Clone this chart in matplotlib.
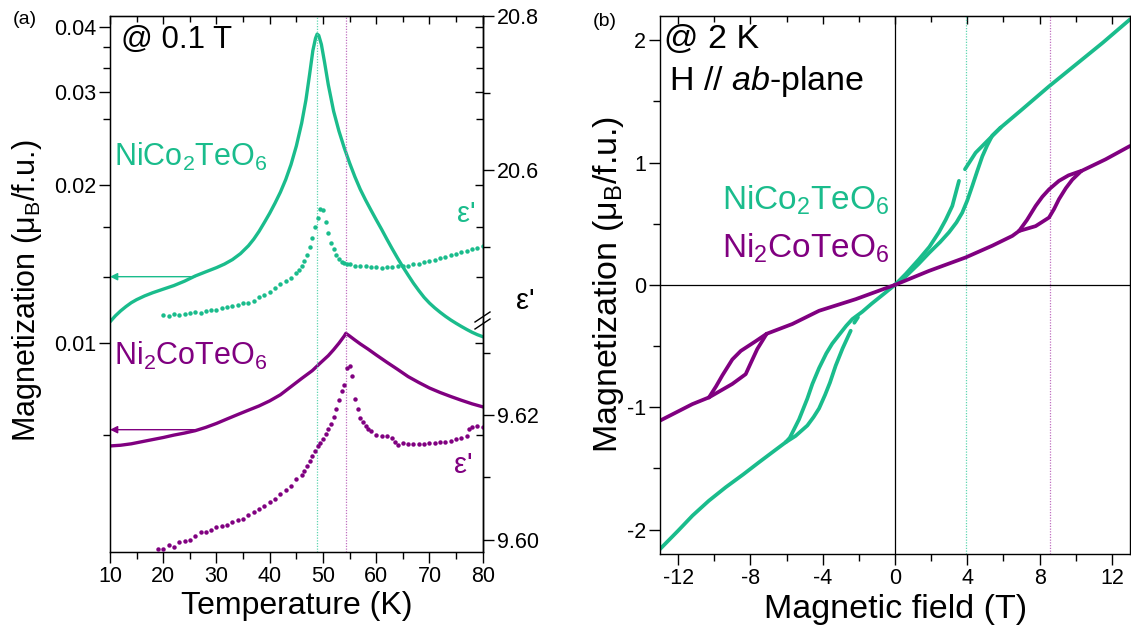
import numpy as np
import matplotlib
matplotlib.use('Agg')
import matplotlib.pyplot as plt
from matplotlib.ticker import FixedLocator, NullFormatter, FixedFormatter

plt.rcParams['font.family'] = ['Liberation Sans', 'DejaVu Sans']
plt.rcParams['mathtext.fontset'] = 'custom'
plt.rcParams['mathtext.rm'] = 'Liberation Sans'
plt.rcParams['mathtext.it'] = 'Liberation Sans:italic'
plt.rcParams['mathtext.bf'] = 'Liberation Sans:bold'
plt.rcParams['axes.unicode_minus'] = False

GREEN = '#1abc8c'
PURPLE = '#800080'

# ---- (a) M(T) at 0.1 T ----
t_m_nico = [10, 11, 12, 13, 14, 15, 16.5, 18, 20, 22, 24, 26, 28, 30, 31.5, 33, 34.5, 36,
            37, 38, 39, 40, 41, 42, 43, 44, 45, 46, 46.8, 47.5, 48.1, 48.6, 48.9, 49.2,
            49.7, 50.3, 51, 52, 53, 54, 55, 56, 57, 58, 59, 60, 61, 62, 63, 64, 65, 66,
            67, 68, 69, 70, 71, 72, 73, 74, 75, 76, 77, 78, 79, 80]
m_nico = [0.01096, 0.01125, 0.0115, 0.01172, 0.01192, 0.01208, 0.01228, 0.01245, 0.01265,
          0.01285, 0.0131, 0.0134, 0.01365, 0.0139, 0.01412, 0.0144, 0.01478, 0.0153,
          0.01575, 0.0163, 0.01695, 0.01765, 0.01845, 0.01935, 0.02045, 0.02185, 0.0237,
          0.0262, 0.029, 0.0325, 0.036, 0.038, 0.0387, 0.0385, 0.037, 0.0342, 0.031,
          0.0276, 0.0253, 0.0235, 0.022, 0.0207, 0.0196, 0.0187, 0.0179, 0.01715,
          0.01645, 0.01575, 0.0151, 0.0145, 0.01395, 0.01345, 0.01298, 0.01257, 0.0122,
          0.0119, 0.01165, 0.01143, 0.01123, 0.01105, 0.01089, 0.01074, 0.0106, 0.01047,
          0.01036, 0.01027]

t_m_ni2 = [10, 12, 14, 16, 18, 20, 22, 24, 26, 28, 30, 32, 34, 36, 38, 40, 42, 44, 46, 48,
           49.5, 51, 52, 53, 54, 54.3, 55, 56, 57, 58.5, 60, 62, 64, 66, 68, 70, 72, 74,
           76, 78, 80]
m_ni2 = [0.00636, 0.00638, 0.00642, 0.00648, 0.00654, 0.0066, 0.00667, 0.00673, 0.0068,
         0.0069, 0.00702, 0.00716, 0.0073, 0.00744, 0.00758, 0.00775, 0.00796, 0.00825,
         0.00855, 0.00885, 0.00915, 0.00945, 0.0097, 0.00998, 0.0103, 0.01042, 0.0103,
         0.01012, 0.00995, 0.00972, 0.00948, 0.00918, 0.0089, 0.00862, 0.0084, 0.0082,
         0.00804, 0.0079, 0.00777, 0.00765, 0.00755]

# dielectric constant eps'
t_eps_nico = [20, 21, 22, 23, 24, 25, 26, 27, 28, 29, 30, 31, 32, 33, 34, 35, 36, 37, 38,
              39, 40, 41, 42, 43, 44, 45, 45.5, 46, 46.5, 47, 47.5, 48, 48.5, 49, 49.5,
              50, 50.5, 51, 51.5, 52, 52.5, 53, 53.5, 54, 54.5, 55, 56, 57, 58, 59, 60,
              61, 62, 63, 64, 65, 66, 67, 68, 69, 70, 71, 72, 73, 74, 75, 76, 77, 78,
              79, 80]
eps_nico = [20.412, 20.411, 20.413, 20.412, 20.413, 20.415, 20.416, 20.415, 20.417,
            20.418, 20.419, 20.421, 20.422, 20.424, 20.425, 20.427, 20.428, 20.430,
            20.435, 20.438, 20.442, 20.447, 20.452, 20.456, 20.460, 20.466, 20.470,
            20.476, 20.482, 20.490, 20.500, 20.512, 20.526, 20.538, 20.550, 20.548,
            20.532, 20.518, 20.506, 20.497, 20.490, 20.485, 20.481, 20.479, 20.478,
            20.478, 20.476, 20.476, 20.475, 20.474, 20.474, 20.473, 20.474, 20.474,
            20.475, 20.475, 20.476, 20.478, 20.478, 20.481, 20.482, 20.484, 20.486,
            20.487, 20.490, 20.491, 20.494, 20.495, 20.497, 20.499, 20.502]

t_eps_ni2 = [19, 20, 21, 22, 23, 24, 25, 26, 27, 28, 29, 30, 31, 32, 33, 34, 35, 36, 37,
             38, 39, 40, 41, 42, 43, 44, 45, 46, 46.5, 47, 47.5, 48, 48.5, 49, 49.5, 50,
             50.5, 51, 51.5, 52, 52.5, 53, 53.5, 54, 54.5, 55, 55.5, 56, 56.5, 57, 57.5,
             58, 58.5, 59, 60, 61, 62, 63, 63.5, 64, 65, 66, 67, 68, 69, 70, 71, 72, 73,
             74, 75, 76, 77, 77.5, 78, 79, 80]
eps_ni2 = [9.5985, 9.5986, 9.5992, 9.5989, 9.5997, 9.5998, 9.6000, 9.6006, 9.6012,
           9.6012, 9.6016, 9.6021, 9.6022, 9.6024, 9.6028, 9.6031, 9.6034, 9.6040,
           9.6045, 9.6050, 9.6054, 9.6060, 9.6066, 9.6073, 9.6080, 9.6087, 9.6097,
           9.6104, 9.6110, 9.6118, 9.6126, 9.6134, 9.6142, 9.6150, 9.6155, 9.6161,
           9.6170, 9.6178, 9.6186, 9.6197, 9.6210, 9.6224, 9.6238, 9.6248, 9.6275,
           9.6278, 9.6262, 9.6225, 9.6210, 9.6196, 9.6188, 9.6183, 9.6178, 9.6174,
           9.6168, 9.6166, 9.6167, 9.6163, 9.6156, 9.6152, 9.6155, 9.6154, 9.6154,
           9.6153, 9.6154, 9.6155, 9.6155, 9.6156, 9.6157, 9.6159, 9.6161, 9.6163,
           9.6166, 9.6178, 9.6180, 9.6182, 9.6180]

tn_nico, tn_ni2 = 48.9, 54.4
arrow_t = 26.0
arrow_m_nico, arrow_m_ni2 = 0.01336, 0.00683

m_major = [0.01, 0.02, 0.03, 0.04]
m_major_lbl = ['0.01', '0.02', '0.03', '0.04']
m_minor = [0.00667, 0.01336, 0.0166, 0.0267, 0.0333, 0.0366]

# ---- (b) M(H) at 2 K ----
h_nico_hi = [5.84, 7, 8.5, 10, 11.5, 13]
m_nico_hi = [1.285, 1.43, 1.62, 1.80, 1.98, 2.17]
h_nico_a1 = [0, 0.6, 1.33, 1.9, 2.43, 2.8, 3.17, 3.54]
m_nico_a1 = [0, 0.09, 0.21, 0.31, 0.43, 0.53, 0.645, 0.85]
h_nico_a2 = [3.87, 4.46, 5.2, 5.84]
m_nico_a2 = [0.945, 1.08, 1.19, 1.285]
h_nico_b = [0, 0.6, 1.3, 1.88, 2.5, 2.99, 3.4, 3.72, 4.0, 4.28, 4.55, 4.83, 5.1, 5.38, 5.84]
m_nico_b = [0, 0.07, 0.17, 0.26, 0.35, 0.43, 0.51, 0.59, 0.69, 0.81, 0.93, 1.05, 1.14, 1.22, 1.285]
h_nico_lo = [-13, -12, -11.2, -10.3, -9.36, -8.4, -7.52, -6.8, -6.05]
m_nico_lo = [-2.16, -2.01, -1.886, -1.765, -1.654, -1.55, -1.45, -1.37, -1.287]
h_nico_c = [-6.05, -5.82, -5.31, -4.85, -4.57, -4.2, -3.8, -3.47, -3.1, -2.7, -2.36,
            -1.81, -1.3, -0.98, -0.5, 0]
m_nico_c = [-1.287, -1.25, -1.10, -0.93, -0.81, -0.68, -0.56, -0.48, -0.41, -0.335,
            -0.28, -0.22, -0.155, -0.117, -0.06, 0]
h_nico_d1 = [-6.05, -5.5, -4.85, -4.5, -4.2, -3.87, -3.6, -3.28, -2.9, -2.45]
m_nico_d1 = [-1.287, -1.235, -1.15, -1.08, -1.01, -0.90, -0.80, -0.66, -0.52, -0.375]
h_nico_d2 = [-2.25, -2.05]
m_nico_d2 = [-0.31, -0.265]

h_ni2_lo = [0, 1.88, 3.91, 5.38, 6.49, 6.86]
m_ni2_lo = [0, 0.114, 0.224, 0.32, 0.40, 0.44]
h_ni2_up = [6.86, 7.3, 7.78, 8.15, 8.52, 9.07, 9.6, 10.18, 10.3]
m_ni2_up = [0.44, 0.53, 0.645, 0.72, 0.78, 0.85, 0.895, 0.925, 0.93]
h_ni2_dn = [6.86, 7.78, 8.52, 8.8, 9.07, 9.45, 9.81, 10.3]
m_ni2_dn = [0.44, 0.48, 0.55, 0.62, 0.70, 0.79, 0.86, 0.93]
h_ni2_hi = [10.3, 11.65, 13]
m_ni2_hi = [0.93, 1.026, 1.135]
h_ni2_nhi = [-13, -11.21, -10.29]
m_ni2_nhi = [-1.11, -0.975, -0.92]
h_ni2_nup = [-10.29, -9.9, -9.55, -9.0, -8.53, -7.7, -7.1]
m_ni2_nup = [-0.92, -0.83, -0.74, -0.61, -0.54, -0.46, -0.40]
h_ni2_ndn = [-10.29, -9.0, -8.26, -7.95, -7.62, -7.1]
m_ni2_ndn = [-0.92, -0.81, -0.73, -0.63, -0.525, -0.40]
h_ni2_nlo = [-7.1, -5.68, -4.2, -2.17, 0]
m_ni2_nlo = [-0.40, -0.32, -0.212, -0.117, 0]

hc_nico, hc_ni2 = 3.95, 8.55

W, H = 1131, 627
fig = plt.figure(figsize=(W / 100, H / 100), dpi=100)


def box(x0, y0, x1, y1):
    return [x0 / W, 1 - y1 / H, (x1 - x0) / W, (y1 - y0) / H]


def fxy(x, y):
    return x / W, 1 - y / H


TICK = 15.5

# ---------------- panel (a) ----------------
ax = fig.add_axes(box(110, 15.7, 482.7, 551.7))
ax.set_yscale('log')
ax.plot(t_m_nico, m_nico, color=GREEN, lw=2.4, solid_joinstyle='round')
ax.plot(t_m_ni2, m_ni2, color=PURPLE, lw=2.4, solid_joinstyle='round')
ax.axvline(tn_nico, color='#5fd6b0', lw=0.9, ls=(0, (1, 1.2)))
ax.axvline(tn_ni2, color='#c070c0', lw=0.9, ls=(0, (1, 1.2)))
ax.annotate('', xy=(10, arrow_m_nico), xytext=(arrow_t, arrow_m_nico),
            arrowprops=dict(arrowstyle='-|>', color=GREEN, lw=1.0, mutation_scale=11,
                            shrinkA=0, shrinkB=0))
ax.annotate('', xy=(10, arrow_m_ni2), xytext=(arrow_t, arrow_m_ni2),
            arrowprops=dict(arrowstyle='-|>', color=PURPLE, lw=1.0, mutation_scale=11,
                            shrinkA=0, shrinkB=0))
ax.set_xlim(10, 80)
ax.set_ylim(0.0040, 0.04196)
ax.yaxis.set_major_locator(FixedLocator(m_major))
ax.yaxis.set_major_formatter(FixedFormatter(m_major_lbl))
ax.yaxis.set_minor_locator(FixedLocator(m_minor))
ax.yaxis.set_minor_formatter(NullFormatter())
ax.set_xticks(np.arange(10, 81, 10))
ax.xaxis.set_minor_locator(FixedLocator(np.arange(15, 80, 10)))
ax.tick_params(axis='both', which='both', labelsize=TICK, width=1.0, direction='out',
               top=False, right=False)
ax.tick_params(which='major', length=8)
ax.tick_params(which='minor', length=5)
ax.tick_params(axis='x', pad=2)
ax.tick_params(axis='y', pad=2)
for s in ax.spines.values():
    s.set_linewidth(1.0)

# inward mirror ticks on top and right
sec = ax.secondary_xaxis('top')
sec.set_xticks(np.arange(10, 81, 10))
sec.xaxis.set_minor_locator(FixedLocator(np.arange(15, 80, 10)))
sec.tick_params(which='both', direction='in', labeltop=False, width=1.0)
sec.tick_params(which='major', length=6)
sec.tick_params(which='minor', length=4)
axm = ax.twinx()
axm.set_yscale('log')
axm.set_ylim(ax.get_ylim())
axm.yaxis.set_major_locator(FixedLocator(m_major))
axm.yaxis.set_minor_locator(FixedLocator(m_minor))
axm.yaxis.set_major_formatter(NullFormatter())
axm.yaxis.set_minor_formatter(NullFormatter())
axm.tick_params(which='both', direction='in', width=1.0)
axm.tick_params(which='major', length=6)
axm.tick_params(which='minor', length=5)

# eps' axes: upper (NiCo2TeO6) and lower (Ni2CoTeO6) segments of the broken right axis
axu = fig.add_axes(box(110, 15.7, 482.7, 322))
axl = fig.add_axes(box(110, 322, 482.7, 551.7))
for a in (axu, axl):
    a.patch.set_visible(False)
    for k in ('left', 'top', 'bottom'):
        a.spines[k].set_visible(False)
    a.spines['right'].set_linewidth(1.0)
    a.set_xlim(10, 80)
    a.set_xticks([])
    a.yaxis.tick_right()
    a.tick_params(axis='y', which='both', labelsize=TICK, direction='out', width=1.0, pad=2)
    a.tick_params(which='major', length=8)
    a.tick_params(which='minor', length=5)
axu.plot(t_eps_nico, eps_nico, 'o', ms=3.2, color=GREEN, mec='none')
axu.set_ylim(20.403, 20.8)
axu.yaxis.set_major_locator(FixedLocator([20.6, 20.8]))
axu.yaxis.set_major_formatter(FixedFormatter(['20.6', '20.8']))
axu.yaxis.set_minor_locator(FixedLocator([20.7, 20.5]))
axu.yaxis.set_minor_formatter(NullFormatter())
axl.plot(t_eps_ni2, eps_ni2, 'o', ms=3.2, color=PURPLE, mec='none')
axl.set_ylim(9.5981, 9.6349)
axl.yaxis.set_major_locator(FixedLocator([9.60, 9.62]))
axl.yaxis.set_major_formatter(FixedFormatter(['9.60', '9.62']))
axl.yaxis.set_minor_locator(FixedLocator([9.61, 9.63]))
axl.yaxis.set_minor_formatter(NullFormatter())

# axis break marks
for dy in (0, 7):
    x0, y0 = fxy(475, 322 + dy)
    x1, y1 = fxy(490, 312 + dy)
    fig.add_artist(plt.Line2D([x0, x1], [y0, y1], color='black', lw=1.0))

fig.text(*fxy(13, 19), '(a)', fontsize=14, va='center', ha='left')
fig.text(*fxy(121, 48), '@ 0.1 T', fontsize=22.5, va='baseline', ha='left')
fig.text(*fxy(114, 166), 'NiCo$_2$TeO$_6$', fontsize=22, va='baseline', ha='left', color=GREEN)
fig.text(*fxy(114, 365), 'Ni$_2$CoTeO$_6$', fontsize=22, va='baseline', ha='left', color=PURPLE)
fig.text(*fxy(466, 222), "ε'", fontsize=21, va='baseline', ha='center', color=GREEN)
fig.text(*fxy(525, 309), "ε'", fontsize=21, va='baseline', ha='center', color='black')
fig.text(*fxy(463, 473), "ε'", fontsize=21, va='baseline', ha='center', color=PURPLE)
fig.text(*fxy(27, 291), 'Magnetization (μ$_\\mathrm{B}$/f.u.)', fontsize=22, rotation=90,
         va='center', ha='center')
fig.text(*fxy(297, 614), 'Temperature (K)', fontsize=23, va='baseline', ha='center')

# ---------------- panel (b) ----------------
bx = fig.add_axes(box(660, 15.7, 1130, 554))
bx.axhline(0, color='black', lw=0.9)
bx.axvline(0, color='black', lw=0.9)
bx.axvline(hc_nico, color='#5fd6b0', lw=0.9, ls=(0, (1, 1.2)))
bx.axvline(hc_ni2, color='#c070c0', lw=0.9, ls=(0, (1, 1.2)))
kw = dict(lw=2.7, solid_capstyle='round', solid_joinstyle='round')
for hh, mm in ((h_nico_hi, m_nico_hi), (h_nico_a1, m_nico_a1), (h_nico_a2, m_nico_a2),
               (h_nico_b, m_nico_b), (h_nico_lo, m_nico_lo), (h_nico_c, m_nico_c),
               (h_nico_d1, m_nico_d1), (h_nico_d2, m_nico_d2)):
    bx.plot(hh, mm, color=GREEN, **kw)
for hh, mm in ((h_ni2_lo, m_ni2_lo), (h_ni2_up, m_ni2_up), (h_ni2_dn, m_ni2_dn),
               (h_ni2_hi, m_ni2_hi), (h_ni2_nhi, m_ni2_nhi), (h_ni2_nup, m_ni2_nup),
               (h_ni2_ndn, m_ni2_ndn), (h_ni2_nlo, m_ni2_nlo)):
    bx.plot(hh, mm, color=PURPLE, **kw)
bx.set_xlim(-13, 13)
bx.set_ylim(-2.2, 2.2)
bx.set_xticks(np.arange(-12, 13, 4))
bx.xaxis.set_minor_locator(FixedLocator(np.arange(-10, 11, 4)))
bx.set_yticks([-2, -1, 0, 1, 2])
bx.yaxis.set_minor_locator(FixedLocator([-1.5, -0.5, 0.5, 1.5]))
bx.tick_params(axis='both', which='both', labelsize=TICK, width=1.0, direction='out')
bx.tick_params(which='major', length=8)
bx.tick_params(which='minor', length=5)
bx.tick_params(axis='x', pad=2)
bx.tick_params(axis='y', pad=2)
for s in bx.spines.values():
    s.set_linewidth(1.0)
secb = bx.secondary_xaxis('top')
secb.set_xticks(np.arange(-12, 13, 4))
secb.xaxis.set_minor_locator(FixedLocator(np.arange(-10, 11, 4)))
secb.tick_params(which='both', direction='in', labeltop=False, width=1.0)
secb.tick_params(which='major', length=6)
secb.tick_params(which='minor', length=4)

fig.text(*fxy(593, 22), '(b)', fontsize=14, va='center', ha='left')
fig.text(*fxy(664, 48), '@ 2 K', fontsize=24.5, va='baseline', ha='left')
fig.text(*fxy(669, 90), 'H $\\mathit{//}$ $\\mathit{ab}$-plane', fontsize=24.5,
         va='baseline', ha='left')
fig.text(*fxy(722, 210), 'NiCo$_2$TeO$_6$', fontsize=24, va='baseline', ha='left', color=GREEN)
fig.text(*fxy(722, 258), 'Ni$_2$CoTeO$_6$', fontsize=24, va='baseline', ha='left', color=PURPLE)
fig.text(*fxy(609, 284), 'Magnetization (μ$_\\mathrm{B}$/f.u.)', fontsize=24.5, rotation=90,
         va='center', ha='center')
fig.text(*fxy(896, 618), 'Magnetic field (T)', fontsize=24.5, va='baseline', ha='center')

fig.savefig('out.png', dpi=100)
